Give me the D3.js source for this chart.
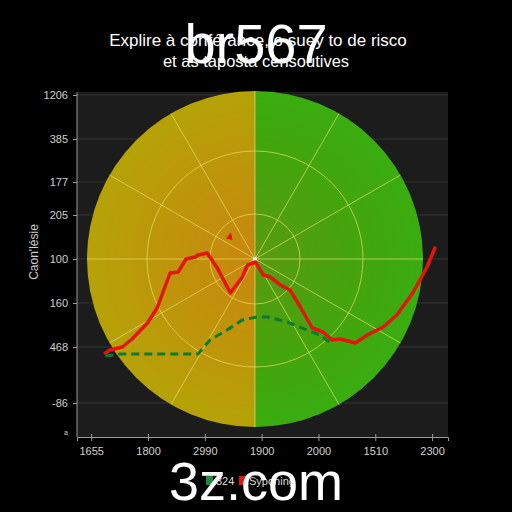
<!DOCTYPE html>
<head>
  <meta charset="utf-8">
  <script src="https://d3js.org/d3.v7.min.js"></script>
  <style>
    body { margin: 0; background: #000; }
    text { font-family: 'Liberation Sans', Arial, sans-serif; }
    .axis text { fill: #d0d0d0; font-size: 11px; }
    .axis path, .axis line { stroke: #9a9a9a; }
  </style>
</head>
<body>
  <script>
    // tick labels as printed on the chart
    var xTickLabels = ["1655", "1800", "2990", "1900", "2000", "1510", "2300"];
    var yTickValues = [342, 298, 255, 222, 178, 134, 90, 34, 5];
    var yTickLabels = ["1206", "385", "177", "205", "100", "160", "468", "-86", "a"];

    // red series (x = position along the axis, y = value)
    var redX = [0.25, 0.33, 0.55, 0.72, 0.99, 1.16, 1.39, 1.53, 1.67, 1.83, 1.88, 2.04,
                2.22, 2.45, 2.66, 2.75, 2.89, 3.03, 3.15, 3.33, 3.50, 3.68, 3.89, 4.08,
                4.24, 4.38, 4.65, 4.86, 5.14, 5.38, 5.67, 5.91, 6.05];
    var redY = [84, 87, 90, 98, 114, 129, 164, 165, 178, 180, 182, 184,
                169, 144, 160, 172, 175, 162, 160, 152, 147, 130, 109, 105,
                97, 98, 94, 102, 110, 122, 145, 170, 189];

    // green dashed series
    var greenX = [0.25, 0.51, 1.88, 2.09, 2.39, 2.66, 2.92, 3.10, 3.45, 3.80, 4.03, 4.26];
    var greenY = [81, 83, 83, 97, 107, 117, 120, 120, 115, 107, 102, 92];

    var legendNames = ["324", "Syponing"];
    var legendColors = ["#1f8a3a", "#d81a10"];

    var width = 512, height = 512;
    var margin = { top: 92, right: 64, bottom: 75, left: 77 };
    var innerW = width - margin.left - margin.right;
    var innerH = height - margin.top - margin.bottom;

    var svg = d3.select("body").append("svg")
        .attr("width", width)
        .attr("height", height);

    svg.append("rect").attr("width", width).attr("height", height).attr("fill", "#000");

    var g = svg.append("g")
        .attr("transform", "translate(" + margin.left + "," + margin.top + ")");

    var x = d3.scaleLinear().domain([-0.25, 6.28]).range([0, innerW]);
    var y = d3.scaleLinear().domain([0, 345]).range([innerH, 0]);

    g.append("rect")
        .attr("width", innerW)
        .attr("height", innerH)
        .attr("fill", "#1c1c1c");

    // horizontal grid
    g.selectAll(".grid")
        .data(yTickValues.slice(0, 8))
      .enter().append("line")
        .attr("x1", 0).attr("x2", innerW)
        .attr("y1", function(d) { return y(d); })
        .attr("y2", function(d) { return y(d); })
        .attr("stroke", "#333")
        .attr("stroke-width", 1);

    // polar background, centred on the "100" row
    var cx = 178, cy = y(178), R = 168;
    var defs = svg.append("defs");
    var lg = defs.append("radialGradient").attr("id", "leftGrad")
        .attr("gradientUnits", "userSpaceOnUse")
        .attr("cx", 0).attr("cy", 0).attr("r", R);
    lg.append("stop").attr("offset", "0%").attr("stop-color", "#c8860e");
    lg.append("stop").attr("offset", "55%").attr("stop-color", "#be950a");
    lg.append("stop").attr("offset", "100%").attr("stop-color", "#b5a207");
    var rg = defs.append("radialGradient").attr("id", "rightGrad")
        .attr("gradientUnits", "userSpaceOnUse")
        .attr("cx", 0).attr("cy", 0).attr("r", R);
    rg.append("stop").attr("offset", "0%").attr("stop-color", "#5a9a12");
    rg.append("stop").attr("offset", "60%").attr("stop-color", "#44a40c");
    rg.append("stop").attr("offset", "100%").attr("stop-color", "#3aad10");

    var arc = d3.arc().innerRadius(0).outerRadius(R);
    var polar = g.append("g").attr("transform", "translate(" + cx + "," + cy + ")");
    polar.append("path")
        .attr("d", arc({ startAngle: Math.PI, endAngle: 2 * Math.PI }))
        .attr("fill", "url(#leftGrad)");
    polar.append("path")
        .attr("d", arc({ startAngle: 0, endAngle: Math.PI }))
        .attr("fill", "url(#rightGrad)");

    polar.selectAll(".ring")
        .data([45, 108])
      .enter().append("circle")
        .attr("r", function(d) { return d; })
        .attr("fill", "none")
        .attr("stroke", "#e8e070")
        .attr("stroke-opacity", 0.75)
        .attr("stroke-width", 0.9);

    polar.selectAll(".spoke")
        .data(d3.range(0, 360, 30))
      .enter().append("line")
        .attr("x1", 0).attr("y1", 0)
        .attr("x2", function(d) { return R * Math.cos(d * Math.PI / 180); })
        .attr("y2", function(d) { return -R * Math.sin(d * Math.PI / 180); })
        .attr("stroke", "#e8e070")
        .attr("stroke-opacity", 0.75)
        .attr("stroke-width", 0.9);

    polar.append("circle").attr("r", 2).attr("fill", "#fff");

    // axes
    var xAxis = d3.axisBottom(x)
        .tickValues(d3.range(xTickLabels.length))
        .tickFormat(function(d, i) { return xTickLabels[i]; })
        .tickSize(4).tickPadding(6);
    g.append("g")
        .attr("class", "axis")
        .attr("transform", "translate(0," + innerH + ")")
        .call(xAxis)
        .call(function(s) { s.selectAll(".tick line").attr("y1", -3); });

    var yAxis = d3.axisLeft(y)
        .tickValues(yTickValues)
        .tickFormat(function(d, i) { return yTickLabels[i]; })
        .tickSize(4).tickPadding(5);
    g.append("g")
        .attr("class", "axis")
        .call(yAxis)
        .call(function(s) {
          s.select(".domain").attr("d", "M0,0V" + innerH);
          var last = s.selectAll(".tick").filter(function(d, i) { return i === yTickLabels.length - 1; });
          last.select("text").style("font-size", "7px");
          last.select("line").remove();
        });

    // lines
    var line = d3.line()
        .x(function(d) { return x(d[0]); })
        .y(function(d) { return y(d[1]); });

    var green = d3.zip(greenX, greenY);
    var red = d3.zip(redX, redY);

    g.append("path")
        .attr("d", line(green))
        .attr("fill", "none")
        .attr("stroke", "#0d7a33")
        .attr("stroke-width", 3)
        .attr("stroke-dasharray", "8,5");

    g.append("path")
        .attr("d", line(red))
        .attr("fill", "none")
        .attr("stroke", "#e4150d")
        .attr("stroke-width", 3.5)
        .attr("stroke-linejoin", "round")
        .attr("stroke-linecap", "round");

    // small red marker
    g.append("path")
        .attr("d", "M" + x(2.40) + "," + y(199) + "l3,-4l1,5z")
        .attr("fill", "#e4150d")
        .attr("stroke", "#e4150d")
        .attr("stroke-width", 1.5);

    // y axis title
    svg.append("text")
        .attr("transform", "translate(38,252) rotate(-90)")
        .attr("text-anchor", "middle")
        .attr("fill", "#d0d0d0")
        .style("font-size", "12px")
        .text("Caon'lésie");

    // title
    svg.append("text")
        .attr("x", 258).attr("y", 46)
        .attr("text-anchor", "middle")
        .attr("fill", "#fff")
        .style("font-size", "17px")
        .text("Explire à conférance, o suey to de risco");
    svg.append("text")
        .attr("x", 256).attr("y", 67)
        .attr("text-anchor", "middle")
        .attr("fill", "#fff")
        .style("font-size", "16.5px")
        .text("et as taposta censoutives");

    // legend
    var lgd = svg.append("g").attr("transform", "translate(206,476)");
    var items = lgd.selectAll(".item")
        .data(legendNames)
      .enter().append("g")
        .attr("transform", function(d, i) { return "translate(" + (i * 33) + ",0)"; });
    items.append("rect")
        .attr("width", 7).attr("height", 9)
        .attr("fill", function(d, i) { return legendColors[i]; });
    items.append("text")
        .attr("x", 10).attr("y", 9)
        .attr("fill", "#ddd")
        .style("font-size", "11px")
        .text(function(d) { return d; });

    // watermarks
    svg.append("text")
        .attr("x", 256).attr("y", 63)
        .attr("text-anchor", "middle")
        .attr("fill", "#fff")
        .style("font-size", "56px")
        .text("br567");
    svg.append("text")
        .attr("x", 256).attr("y", 500)
        .attr("text-anchor", "middle")
        .attr("fill", "#fff")
        .style("font-size", "54px")
        .text("3z.com");
  </script>
</body>
